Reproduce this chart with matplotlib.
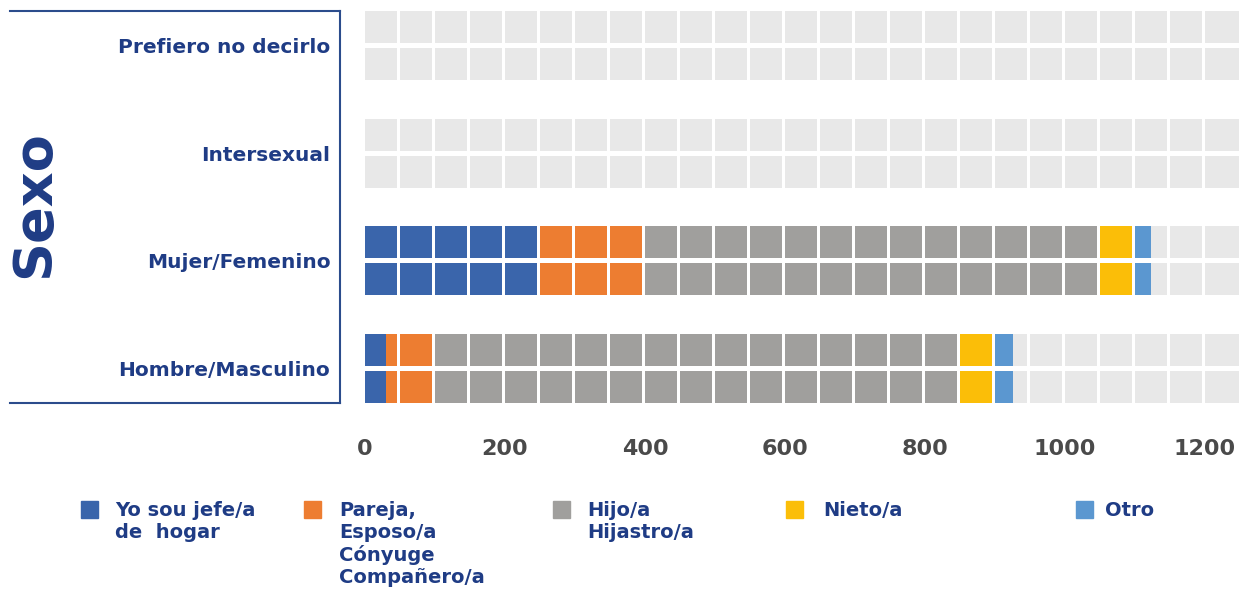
import matplotlib
matplotlib.use("Agg")
import matplotlib.pyplot as plt
from matplotlib.patches import Rectangle
from matplotlib.lines import Line2D

# datos
categorias = ["Hombre/Masculino", "Mujer/Femenino", "Intersexual", "Prefiero no decirlo"]
jefe = [30, 248, 0, 0]
pareja = [68, 150, 0, 0]
hijo = [752, 652, 0, 0]
nieto = [50, 50, 0, 0]
otro = [26, 23, 0, 0]

series_nombres = ["Yo sou jefe/a\nde  hogar", "Pareja,\nEsposo/a\nCónyuge\nCompañero/a",
                  "Hijo/a\nHijastro/a", "Nieto/a", "Otro"]
colores = ["#3A65AB", "#ED7D31", "#A09F9D", "#FBBE08", "#5B97D0"]
fondo = "#E8E8E8"
azul_txt = "#1F3C85"
ticks_x = [0, 200, 400, 600, 800, 1000, 1200]

W, H = 1241, 592
fig = plt.figure(figsize=(W / 100, H / 100), dpi=100)


def fx(px):
    return px / W


def fy(py):
    return 1 - py / H


ax = fig.add_axes([fx(365), fy(403), fx(1239) - fx(365), fy(11) - fy(403)])

xmax = 1248.6
off = 0.172   # desplazamiento de cada fila respecto al centro
h = 0.298     # alto de cada fila
valores = [jefe, pareja, hijo, nieto, otro]

for i in range(len(categorias)):
    for dy in (-off, off):
        ax.barh(i + dy, xmax, height=h, color=fondo, zorder=1)
        left = 0
        for vals, c in zip(valores, colores):
            if vals[i] > 0:
                ax.barh(i + dy, vals[i], left=left, height=h, color=c, zorder=2)
            left += vals[i]

# separaciones blancas entre bloques (cada 50)
gap = 3 / 0.7
for k in range(1, 25):
    ax.axvspan(50 * k - gap, 50 * k, color="white", lw=0, zorder=3)

ax.set_xlim(0, xmax)
ax.set_ylim(-off - h / 2, 3 + off + h / 2)
ax.set_xticks(ticks_x)
ax.set_xticklabels([str(t) for t in ticks_x], fontsize=16, fontweight="bold", color="#4A4A4A")
ax.set_yticks(range(len(categorias)))
ax.set_yticklabels(categorias, fontsize=14.5, fontweight="bold", color=azul_txt)
ax.tick_params(axis="x", length=0, pad=26)
ax.tick_params(axis="y", length=0, pad=25)
for s in ax.spines.values():
    s.set_visible(False)

# recuadro izquierdo
lc = "#2B4C8C"
fig.add_artist(Line2D([fx(10), fx(340)], [fy(11), fy(11)], color=lc, lw=1.5))
fig.add_artist(Line2D([fx(10), fx(340)], [fy(403), fy(403)], color=lc, lw=1.5))
fig.add_artist(Line2D([fx(340), fx(340)], [fy(11), fy(403)], color=lc, lw=1.5))
fig.text(fx(34), fy(204), "Sexo", rotation=90, fontsize=39, fontweight="bold",
         color=azul_txt, ha="center", va="center")

# leyenda
sq_x = [81, 304, 553, 786, 1076]
tx_x = [115, 339, 587, 823, 1105]
for nombre, c, sx, tx in zip(series_nombres, colores, sq_x, tx_x):
    fig.add_artist(Rectangle((fx(sx), fy(518)), fx(17), 17 / H, color=c,
                             transform=fig.transFigure))
    fig.text(fx(tx), fy(501), nombre, fontsize=14, fontweight="bold", color=azul_txt,
             ha="left", va="top", linespacing=1.2)

fig.savefig("out.png", dpi=100)
